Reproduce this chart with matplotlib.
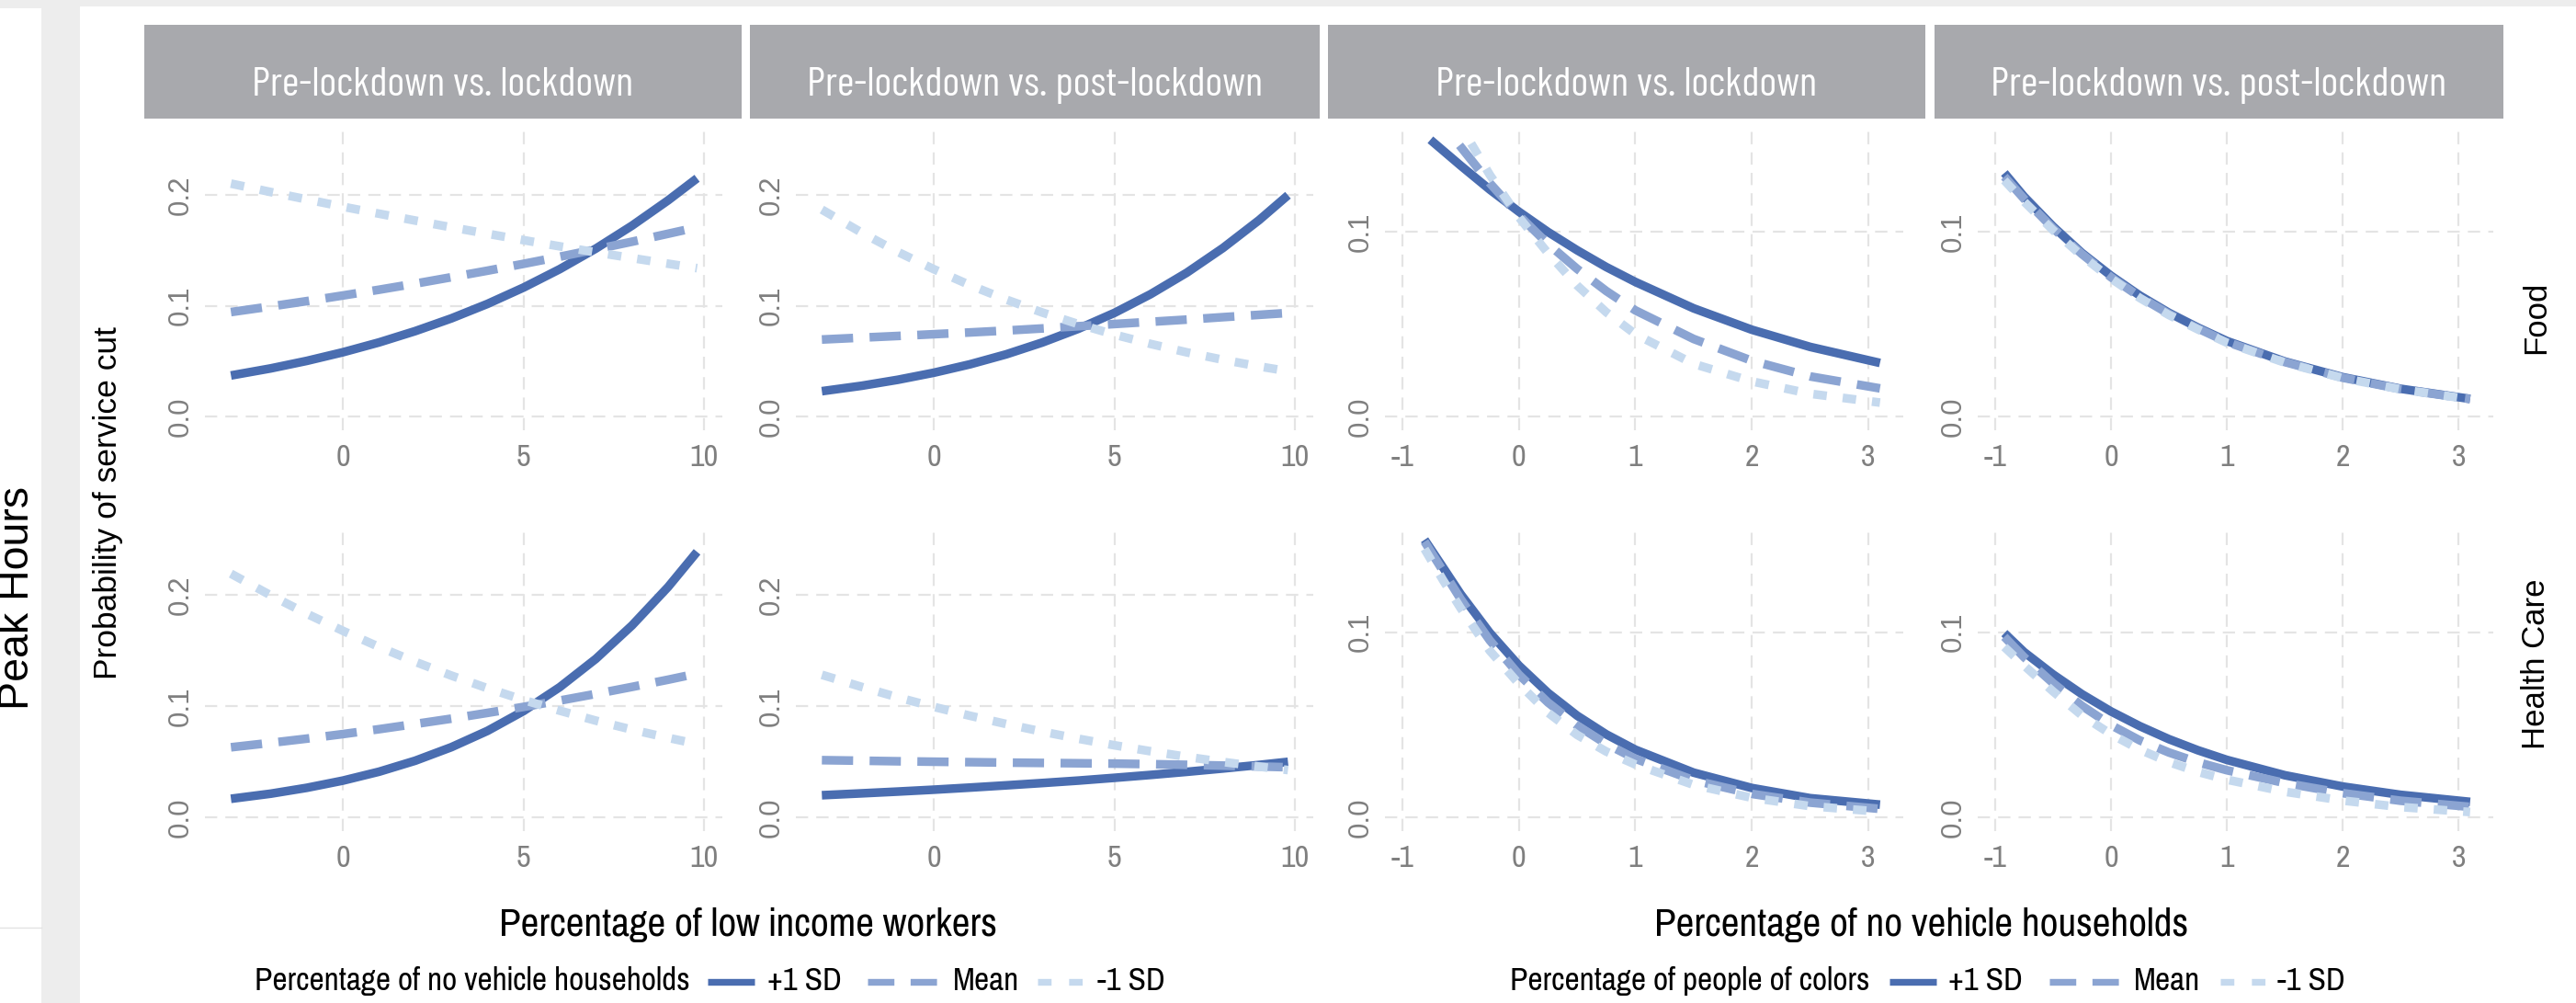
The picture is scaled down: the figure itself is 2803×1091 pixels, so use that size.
import matplotlib.pyplot as plt
from matplotlib import font_manager as fm
from matplotlib.patches import Rectangle
from matplotlib.lines import Line2D

W, H = 2803, 1091

# ---------------- data ----------------
periods = ["Pre-lockdown vs. lockdown", "Pre-lockdown vs. post-lockdown"]
services = ["Food", "Health Care"]
series_labels = ["+1 SD", "Mean", "-1 SD"]

# left block: x = percentage of low income workers
li_x = [-3.1, -2, -1, 0, 1, 2, 3, 4, 5, 6, 7, 8, 9, 9.8]
food_lock_li_hi = [0.0370, 0.0434, 0.0502, 0.0580, 0.0669, 0.0771, 0.0886, 0.1017, 0.1165, 0.1331, 0.1517, 0.1724, 0.1953, 0.2152]
food_lock_li_mean = [0.0943, 0.0994, 0.1042, 0.1093, 0.1145, 0.1200, 0.1258, 0.1317, 0.1379, 0.1443, 0.1510, 0.1579, 0.1651, 0.1709]
food_lock_li_lo = [0.2104, 0.2028, 0.1961, 0.1895, 0.1832, 0.1770, 0.1709, 0.1651, 0.1593, 0.1537, 0.1483, 0.1431, 0.1380, 0.1340]
food_post_li_hi = [0.0228, 0.0277, 0.0331, 0.0395, 0.0471, 0.0561, 0.0668, 0.0792, 0.0936, 0.1105, 0.1299, 0.1522, 0.1774, 0.1999]
food_post_li_mean = [0.0695, 0.0712, 0.0727, 0.0743, 0.0759, 0.0776, 0.0795, 0.0815, 0.0835, 0.0855, 0.0875, 0.0897, 0.0918, 0.0935]
food_post_li_lo = [0.1869, 0.1661, 0.1487, 0.1330, 0.1186, 0.1056, 0.0939, 0.0834, 0.0739, 0.0655, 0.0579, 0.0512, 0.0452, 0.0409]
health_lock_li_hi = [0.0166, 0.0212, 0.0265, 0.0330, 0.0410, 0.0509, 0.0631, 0.0778, 0.0957, 0.1172, 0.1427, 0.1728, 0.2075, 0.2391]
health_lock_li_mean = [0.0630, 0.0670, 0.0708, 0.0749, 0.0793, 0.0840, 0.0888, 0.0940, 0.0994, 0.1051, 0.1111, 0.1174, 0.1239, 0.1294]
health_lock_li_lo = [0.2194, 0.1999, 0.1833, 0.1679, 0.1534, 0.1400, 0.1276, 0.1162, 0.1056, 0.0960, 0.0870, 0.0789, 0.0715, 0.0660]
health_post_li_hi = [0.0198, 0.0215, 0.0231, 0.0248, 0.0267, 0.0287, 0.0308, 0.0330, 0.0355, 0.0381, 0.0409, 0.0439, 0.0471, 0.0499]
health_post_li_mean = [0.0514, 0.0509, 0.0504, 0.0500, 0.0496, 0.0492, 0.0489, 0.0486, 0.0483, 0.0478, 0.0472, 0.0465, 0.0457, 0.0450]
health_post_li_lo = [0.1283, 0.1174, 0.1080, 0.0994, 0.0914, 0.0840, 0.0771, 0.0707, 0.0648, 0.0594, 0.0544, 0.0498, 0.0456, 0.0425]

# right block: x = percentage of no vehicle households
food_lock_nv_hi_x = [-0.76, -0.5, -0.25, 0, 0.25, 0.5, 0.75, 1, 1.5, 2, 2.5, 3.1]
food_lock_nv_hi = [0.1500, 0.1360, 0.1230, 0.1110, 0.1000, 0.0901, 0.0810, 0.0729, 0.0586, 0.0470, 0.0377, 0.0290]
food_lock_nv_mean_x = [-0.51, -0.25, 0, 0.25, 0.5, 0.75, 1, 1.5, 2, 2.5, 3.1]
food_lock_nv_mean = [0.1470, 0.1265, 0.1090, 0.0935, 0.0800, 0.0680, 0.0575, 0.0420, 0.0302, 0.0217, 0.0152]
food_lock_nv_lo_x = [-0.41, -0.25, 0, 0.25, 0.5, 0.75, 1, 1.5, 2, 2.5, 3.1]
food_lock_nv_lo = [0.1480, 0.1310, 0.1080, 0.0885, 0.0710, 0.0565, 0.0446, 0.0285, 0.0190, 0.0123, 0.0075]

nv_x = [-0.92, -0.75, -0.5, -0.25, 0, 0.25, 0.5, 0.75, 1, 1.5, 2, 2.5, 3.1]
food_post_nv_hi = [0.1320, 0.1192, 0.1030, 0.0886, 0.0763, 0.0655, 0.0562, 0.0482, 0.0409, 0.0298, 0.0213, 0.0150, 0.0095]
food_post_nv_mean = [0.1300, 0.1180, 0.1020, 0.0880, 0.0755, 0.0648, 0.0556, 0.0477, 0.0404, 0.0295, 0.0210, 0.0148, 0.0094]
food_post_nv_lo = [0.1280, 0.1165, 0.1010, 0.0870, 0.0748, 0.0642, 0.0550, 0.0472, 0.0400, 0.0292, 0.0208, 0.0147, 0.0093]

health_lock_nv_x = [-0.81, -0.65, -0.5, -0.25, 0, 0.25, 0.5, 0.75, 1, 1.5, 2, 2.5, 3.1]
health_lock_nv_hi = [0.1500, 0.1349, 0.1206, 0.0997, 0.0820, 0.0672, 0.0549, 0.0448, 0.0365, 0.0241, 0.0158, 0.0103, 0.0068]
health_lock_nv_mean = [0.1490, 0.1330, 0.1179, 0.0956, 0.0771, 0.0620, 0.0496, 0.0396, 0.0316, 0.0200, 0.0126, 0.0079, 0.0045]
health_lock_nv_lo = [0.1450, 0.1280, 0.1130, 0.0900, 0.0721, 0.0565, 0.0445, 0.0355, 0.0285, 0.0175, 0.0105, 0.0060, 0.0030]

health_post_nv_hi = [0.0995, 0.0893, 0.0772, 0.0665, 0.0572, 0.0492, 0.0422, 0.0362, 0.0310, 0.0227, 0.0166, 0.0121, 0.0083]
health_post_nv_mean = [0.0975, 0.0865, 0.0725, 0.0602, 0.0498, 0.0415, 0.0350, 0.0297, 0.0254, 0.0185, 0.0130, 0.0089, 0.0056]
health_post_nv_lo = [0.0920, 0.0820, 0.0680, 0.0550, 0.0449, 0.0365, 0.0298, 0.0245, 0.0203, 0.0138, 0.0090, 0.0055, 0.0028]

li_ticks = [0, 5, 10]
li_yticks = [0.0, 0.1, 0.2]
nv_ticks = [-1, 0, 1, 2, 3]
nv_yticks = [0.0, 0.1]

# ---------------- fonts ----------------
have = {f.name for f in fm.fontManager.ttflist}
NARROW = next((f for f in ["Pragati Narrow", "Archivo Narrow", "Liberation Sans Narrow",
                           "Roboto Condensed"] if f in have), "DejaVu Sans")
STRIPF = next((f for f in ["Barlow Condensed", "Fira Sans Extra Condensed"] if f in have), NARROW)
REG = "Liberation Sans" if "Liberation Sans" in have else "DejaVu Sans"

# ---------------- style ----------------
HI, MID, LO = "#4A6DB0", "#8BA4D2", "#C5D9EE"
LW = 6.8
STYLES = [("-", HI), ((0, (3.6, 1.9)), MID), ((0, (1.55, 1.85)), LO)]
TICK_C = "#7F7F7F"
GRID_C = "#E4E4E4"


def fx(x):
    return x / W


def fy(y):
    return 1 - y / H


def box(x0, y0, x1, y1):
    return [fx(x0), fy(y1), (x1 - x0) / W, (y1 - y0) / H]


fig = plt.figure(figsize=(W / 100, H / 100), dpi=100, facecolor="#EDEDED")
renderer = fig.canvas.get_renderer()


def size_for(text, width_px, family):
    # font size that makes `text` about width_px wide in the given family
    t = fig.text(0, 0, text, fontsize=20, fontfamily=family)
    w = t.get_window_extent(renderer=renderer).width
    t.remove()
    return 20 * width_px / w


# page background pieces
for (x0, y0, x1, y1) in [(0, 9, 45, 1091), (87, 7, 2803, 1091)]:
    fig.patches.append(Rectangle((fx(x0), fy(y1)), (x1 - x0) / W, (y1 - y0) / H,
                                 transform=fig.transFigure, facecolor="white",
                                 edgecolor="none", zorder=-10))
fig.add_artist(Line2D([fx(0), fx(45)], [fy(1009), fy(1009)], transform=fig.transFigure,
                      color="#E2E2E2", lw=1))

col_x = [(223, 786), (866, 1429), (1507, 2071), (2152, 2713)]
row_y = [(137, 468), (572, 904)]

panels = [
    (0, 0, [(li_x, food_lock_li_hi), (li_x, food_lock_li_mean), (li_x, food_lock_li_lo)]),
    (0, 1, [(li_x, food_post_li_hi), (li_x, food_post_li_mean), (li_x, food_post_li_lo)]),
    (0, 2, [(food_lock_nv_hi_x, food_lock_nv_hi), (food_lock_nv_mean_x, food_lock_nv_mean),
            (food_lock_nv_lo_x, food_lock_nv_lo)]),
    (0, 3, [(nv_x, food_post_nv_hi), (nv_x, food_post_nv_mean), (nv_x, food_post_nv_lo)]),
    (1, 0, [(li_x, health_lock_li_hi), (li_x, health_lock_li_mean), (li_x, health_lock_li_lo)]),
    (1, 1, [(li_x, health_post_li_hi), (li_x, health_post_li_mean), (li_x, health_post_li_lo)]),
    (1, 2, [(health_lock_nv_x, health_lock_nv_hi), (health_lock_nv_x, health_lock_nv_mean),
            (health_lock_nv_x, health_lock_nv_lo)]),
    (1, 3, [(nv_x, health_post_nv_hi), (nv_x, health_post_nv_mean), (nv_x, health_post_nv_lo)]),
]

tick_size = size_for("10", 31, NARROW)

for r, c, lines in panels:
    (x0, x1), (y0, y1) = col_x[c], row_y[r]
    ax = fig.add_axes(box(x0, y0, x1, y1))
    ax.patch.set_alpha(0)
    for s in ax.spines.values():
        s.set_visible(False)
    if c < 2:
        ax.set_xlim(-3.82, 10.5)
        ax.set_ylim(-0.0125, 0.2625)
        xt, yt = li_ticks, li_yticks
    else:
        ax.set_xlim(-1.15, 3.3)
        ax.set_ylim(-0.0075, 0.1575)
        xt, yt = nv_ticks, nv_yticks
    ax.set_xticks(xt, [str(t) for t in xt], fontfamily=NARROW, fontsize=tick_size, color=TICK_C)
    ax.set_yticks(yt, [f"{t:.1f}" for t in yt], fontfamily=REG, fontsize=22.5, color=TICK_C,
                  rotation=90, va="center", ha="center")
    ax.tick_params(axis="x", length=0, pad=11)
    ax.tick_params(axis="y", length=0, pad=18.7)
    ax.grid(True, color=GRID_C, lw=1.6, linestyle=(0, (6, 4)))
    ax.set_axisbelow(True)
    for (xs, ys), (ls, col) in zip(lines, STYLES):
        ax.plot(xs, ys, color=col, lw=LW, linestyle=ls, solid_capstyle="butt",
                dash_capstyle="butt")

# facet strips along the top
strip_size = size_for(periods[0], 415, STRIPF)
strips = [(157, 807), (816, 1436), (1445, 2095), (2105, 2724)]
for i, (sx0, sx1) in enumerate(strips):
    fig.patches.append(Rectangle((fx(sx0), fy(129)), (sx1 - sx0) / W, 102 / H,
                                 transform=fig.transFigure, facecolor="#A8A9AD",
                                 edgecolor="none"))
    fig.text(fx((sx0 + sx1) / 2), fy(104), periods[i % 2], color="white",
             fontfamily=STRIPF, fontsize=strip_size, ha="center", va="baseline")

# row labels on the right
fig.text(fx(2776), fy(345), services[0], rotation=90, ha="right", va="center",
         fontfamily=REG, fontsize=25)
fig.text(fx(2776), fy(722), services[1], rotation=90, ha="right", va="center",
         fontfamily=REG, fontsize=25)

fig.text(fx(41), fy(650), "Peak Hours", rotation=90, ha="right", va="center",
         fontfamily=REG, fontsize=33.5)
fig.text(fx(118), fy(547), "Probability of service cut", rotation=90, ha="center",
         va="center", fontfamily=REG, fontsize=25.5)

title_size = size_for("Percentage of low income workers", 542, NARROW)
fig.text(fx(814), fy(1018), "Percentage of low income workers", ha="center",
         va="baseline", fontfamily=NARROW, fontsize=title_size)
fig.text(fx(2091), fy(1018), "Percentage of no vehicle households", ha="center",
         va="baseline", fontfamily=NARROW, fontsize=title_size)

# legends drawn by hand (title to the left of the keys, as in ggplot bottom legends)
leg_size = size_for("Percentage of no vehicle households", 473, NARROW)
KEY_STYLES = [("-", HI), ((0, (3.9, 2.4)), MID), ((0, (2.0, 2.6)), LO)]
legends = [
    (277, "Percentage of no vehicle households",
     [(770, 821, 835), (944, 1024, 1037), (1129, 1183, 1194)]),
    (1643, "Percentage of people of colors",
     [(2056, 2107, 2120), (2230, 2308, 2322), (2416, 2469, 2478)]),
]
for tx, title, keys in legends:
    fig.text(fx(tx), fy(1077), title, ha="left", va="baseline",
             fontfamily=NARROW, fontsize=leg_size)
    for (k0, k1, lx), lab, (ls, col) in zip(keys, series_labels, KEY_STYLES):
        fig.add_artist(Line2D([fx(k0), fx(k1)], [fy(1068), fy(1068)],
                              transform=fig.transFigure, color=col, lw=5.3,
                              linestyle=ls, solid_capstyle="butt", dash_capstyle="butt"))
        fig.text(fx(lx), fy(1077), lab, ha="left", va="baseline",
                 fontfamily=NARROW, fontsize=leg_size)

fig.savefig("out.png", dpi=100, facecolor=fig.get_facecolor())
